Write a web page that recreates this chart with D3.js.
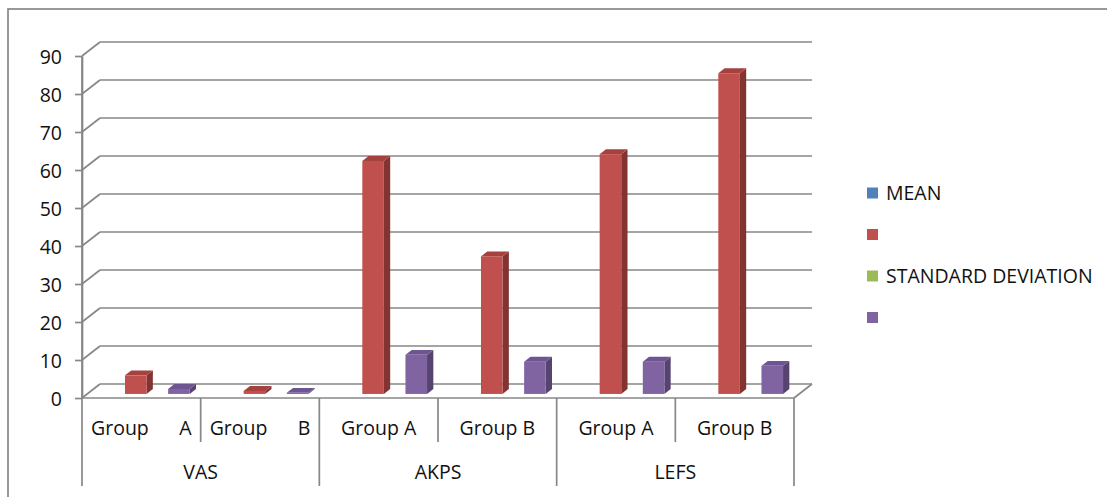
<!DOCTYPE html>
<html>
<head>
<meta charset="utf-8">
<script src="https://cdn.jsdelivr.net/npm/d3@7"></script>
<style>
  html, body { margin: 0; padding: 0; background: #fff; }
  svg { display: block; font-family: "Open Sans", "Liberation Sans", sans-serif; }
</style>
</head>
<body>
<script>
// data
const groups = ["VAS", "AKPS", "LEFS"];
const subgroups = ["Group A", "Group B"];
const justifiedGroups = ["VAS"]; // excel spread these labels across the cell
const seriesNames = ["MEAN", "", "STANDARD DEVIATION", ""];
const seriesColors = ["#4f81bd", "#c0504d", "#9bbb59", "#8064a2"];
const meanValues = [null, null, null, null, null, null];
const series2Values = [4.9, 0.8, 61.3, 36.2, 63.1, 84.4];
const sdValues = [null, null, null, null, null, null];
const series4Values = [1.3, 0.3, 10.3, 8.5, 8.5, 7.4];
const yTicks = [0, 10, 20, 30, 40, 50, 60, 70, 80, 90];

const W = 1107, H = 497;
const GRID = "#878787";
const TEXT = "#111";
const FONT = 19.5;

// darker shades for the 3d faces
const sideColors = ["#3b618e", "#833432", "#748c43", "#57436f"];
const topColors = ["#4572a8", "#a5423f", "#88a64d", "#6c5590"];

const svg = d3.select("body").append("svg")
  .attr("width", W).attr("height", H);

// chart frame (right + bottom edges fall outside the view)
svg.append("rect")
  .attr("x", 8).attr("y", 9)
  .attr("width", 1300).attr("height", 700)
  .attr("fill", "none").attr("stroke", GRID).attr("stroke-width", 1.7);

const cats = [];
groups.forEach(g => subgroups.forEach(s => cats.push({ group: g, label: s })));

const allSeries = [meanValues, series2Values, sdValues, series4Values];

// depth vector of the 3d box
const DX = 18, DY = -14;
const T0 = 0.29, T1 = 0.64; // bar front/back as fraction of depth

const x = d3.scaleBand().domain(d3.range(cats.length)).range([82, 794]);
const xs = d3.scaleBand().domain(d3.range(allSeries.length))
  .range([0, x.bandwidth()]).paddingInner(0).paddingOuter(0.75);
const y = d3.scaleLinear().domain([0, 90]).range([398, 56]);

const xL = x.range()[0], xR = x.range()[1];

// ===== WALLS =====
const walls = svg.append("g").attr("stroke", GRID).attr("stroke-width", 1.7).attr("fill", "none");

walls.selectAll("line.grid")
  .data(yTicks)
  .enter().append("line")
  .attr("class", "grid")
  .attr("x1", xL + DX).attr("x2", xR + DX)
  .attr("y1", d => y(d) + DY).attr("y2", d => y(d) + DY);

walls.selectAll("line.side")
  .data(yTicks)
  .enter().append("line")
  .attr("class", "side")
  .attr("x1", xL).attr("x2", xL + DX)
  .attr("y1", d => y(d)).attr("y2", d => y(d) + DY);

// floor right edge
walls.append("line")
  .attr("x1", xR).attr("y1", y(0))
  .attr("x2", xR + DX).attr("y2", y(0) + DY);

// ===== Y AXIS =====
const gy = svg.append("g")
  .attr("transform", `translate(${xL},0)`)
  .call(d3.axisLeft(y).tickValues(yTicks).tickSize(7).tickSizeOuter(0).tickPadding(13));

gy.selectAll(".domain, .tick line").attr("stroke", GRID).attr("stroke-width", 1.7);
gy.selectAll(".tick text")
  .attr("fill", TEXT)
  .attr("font-size", FONT)
  .attr("font-family", "Open Sans, sans-serif")
  .attr("dy", "0.36em");

// ===== CATEGORY AXIS =====
const axis = svg.append("g").attr("stroke", GRID).attr("stroke-width", 1.7);
axis.append("line")
  .attr("x1", xL).attr("x2", xR)
  .attr("y1", y(0)).attr("y2", y(0));

// inner dividers (between sub groups)
const inner = d3.range(cats.length + 1).filter(i => i % subgroups.length !== 0);
axis.selectAll("line.inner")
  .data(inner)
  .enter().append("line")
  .attr("class", "inner")
  .attr("x1", i => xL + i * x.step()).attr("x2", i => xL + i * x.step())
  .attr("y1", y(0)).attr("y2", 442);

const outer = d3.range(groups.length + 1).map(i => i * subgroups.length);
axis.selectAll("line.outer")
  .data(outer)
  .enter().append("line")
  .attr("class", "outer")
  .attr("x1", i => xL + i * x.step()).attr("x2", i => xL + i * x.step())
  .attr("y1", i => i === 0 ? 56 : y(0)).attr("y2", 486);

const labels = svg.append("g")
  .attr("fill", TEXT)
  .attr("font-size", FONT);

cats.forEach((c, i) => {
  const x0 = x(i), bw = x.bandwidth();
  if (justifiedGroups.includes(c.group)) {
    const words = c.label.split(" ");
    labels.append("text").attr("x", x0 + 9).attr("y", 435).text(words[0]);
    labels.append("text").attr("x", x0 + bw - 9).attr("y", 435)
      .attr("text-anchor", "end").text(words[words.length - 1]);
  } else {
    labels.append("text").attr("x", x0 + bw / 2).attr("y", 435)
      .attr("text-anchor", "middle").text(c.label);
  }
});

groups.forEach((g, gi) => {
  const a = xL + gi * subgroups.length * x.step();
  const b = a + subgroups.length * x.step();
  labels.append("text").attr("x", (a + b) / 2).attr("y", 479)
    .attr("text-anchor", "middle").text(g);
});

// ===== BARS =====
const bars = [];
allSeries.forEach((vals, si) => {
  vals.forEach((v, ci) => {
    if (v == null) return;
    bars.push({ si, ci, v });
  });
});
bars.sort((a, b) => (a.ci - b.ci) || (a.si - b.si));

const ddx = DX * (T1 - T0), ddy = DY * (T1 - T0);
const gb = svg.append("g");

bars.forEach(d => {
  const bx = x(d.ci) + xs(d.si) + DX * T0;
  const w = xs.bandwidth();
  const base = y(0) + DY * T0;
  const top = y(d.v) + DY * T0;
  const g = gb.append("g");

  g.append("polygon")
    .attr("points", [[bx + w, top], [bx + w + ddx, top + ddy], [bx + w + ddx, base + ddy], [bx + w, base]].join(" "))
    .attr("fill", sideColors[d.si]);
  g.append("polygon")
    .attr("points", [[bx, top], [bx + ddx, top + ddy], [bx + w + ddx, top + ddy], [bx + w, top]].join(" "))
    .attr("fill", topColors[d.si]);
  g.append("rect")
    .attr("x", bx).attr("y", top)
    .attr("width", w).attr("height", Math.max(0, base - top))
    .attr("fill", seriesColors[d.si]);
});

// ===== LEGEND =====
const legend = svg.append("g").attr("transform", "translate(867,193)");
const li = legend.selectAll("g")
  .data(seriesNames)
  .enter().append("g")
  .attr("transform", (d, i) => `translate(0,${i * 41.5})`);

li.append("rect")
  .attr("x", 0).attr("y", -5.5)
  .attr("width", 11).attr("height", 11)
  .attr("fill", (d, i) => seriesColors[i]);

li.append("text")
  .attr("x", 19).attr("y", 0).attr("dy", "0.36em")
  .attr("fill", TEXT)
  .attr("font-size", FONT)
  .text(d => d);
</script>
</body>
</html>
